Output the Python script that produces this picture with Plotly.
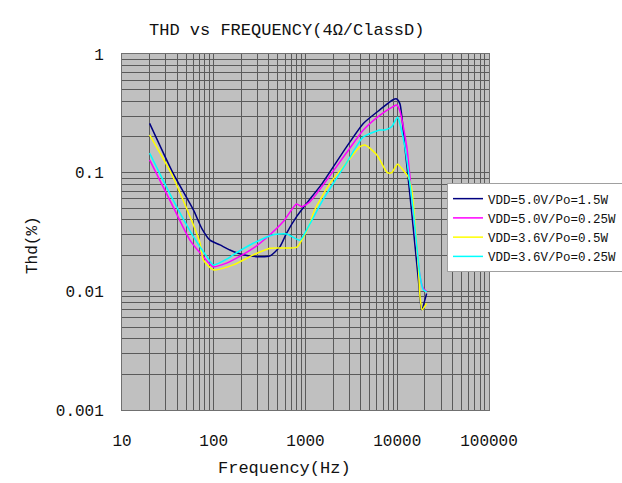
import plotly.graph_objects as go

# ---- data ----
nav_f = [20, 36, 60, 74, 91, 117, 150, 210, 294, 410, 527, 623, 800, 1030, 1500, 2800, 4270, 6500, 8900, 9860, 10700, 12100, 14400, 17000, 18400, 20900]
nav_y = [0.26, 0.099, 0.0485, 0.034, 0.027, 0.0246, 0.0223, 0.0203, 0.0196, 0.0199, 0.0238, 0.031, 0.0426, 0.0552, 0.08, 0.165, 0.26, 0.34, 0.41, 0.418, 0.38, 0.166, 0.0455, 0.0125, 0.007, 0.0096]

mag_f = [20, 36, 55, 77, 99, 138, 163, 270, 410, 573, 800, 910, 1120, 2800, 4270, 6500, 9000, 9860, 10700, 12700, 15000, 17700, 19200, 20900]
mag_y = [0.128, 0.0517, 0.027, 0.0196, 0.0161, 0.0173, 0.0184, 0.0231, 0.030, 0.0387, 0.0545, 0.0517, 0.057, 0.147, 0.229, 0.306, 0.36, 0.372, 0.33, 0.166, 0.0455, 0.0133, 0.0106, 0.010]

yel_f = [20, 36, 65, 71, 77, 99, 163, 270, 410, 800, 910, 1100, 1250, 1860, 2800, 3900, 4450, 6000, 7800, 8690, 10100, 11600, 13200, 14400, 15600, 17000, 17700, 18700, 20900]
yel_y = [0.208, 0.092, 0.031, 0.0254, 0.0184, 0.0152, 0.0167, 0.0203, 0.0231, 0.0235, 0.027, 0.036, 0.048, 0.082, 0.121, 0.165, 0.171, 0.141, 0.10, 0.10, 0.118, 0.105, 0.092, 0.0715, 0.0375, 0.0161, 0.009, 0.007, 0.0079]

cya_f = [20, 36, 60, 84, 99, 144, 163, 270, 445, 623, 871, 1030, 1550, 2800, 4270, 6500, 7350, 8690, 10100, 10800, 12100, 15000, 17700, 19200, 20900]
cya_y = [0.146, 0.059, 0.0289, 0.0196, 0.0167, 0.019, 0.0203, 0.0254, 0.030, 0.0304, 0.027, 0.033, 0.059, 0.121, 0.20, 0.229, 0.229, 0.244, 0.293, 0.25, 0.166, 0.046, 0.0135, 0.0103, 0.0099]

series_names = ["VDD=5.0V/Po=1.5W", "VDD=5.0V/Po=0.25W", "VDD=3.6V/Po=0.5W", "VDD=3.6V/Po=0.25W"]
series_colors = ["#000080", "#ff00ff", "#ffff00", "#00ffff"]

x_ticks = [10, 100, 1000, 10000, 100000]
x_ticktext = ["10", "100", "1000", "10000", "100000"]
y_ticks = [0.001, 0.01, 0.1, 1]
y_ticktext = ["0.001", "0.01", "0.1", "1"]

FONT = "Liberation Mono"

fig = go.Figure()
for f, y, name, col in zip([nav_f, mag_f, yel_f, cya_f], [nav_y, mag_y, yel_y, cya_y], series_names, series_colors):
    fig.add_trace(go.Scatter(x=f, y=y, mode="lines", name=name,
                             line=dict(color=col, width=1.5, shape="spline", smoothing=0.6)))

x_minor = [m * 10 ** e for e in range(1, 5) for m in range(2, 10)]
y_minor = [m * 10 ** e for e in range(-3, 0) for m in range(2, 10)]

grid_col = "#5a5a5a"
fig.update_xaxes(type="log", range=[1, 5], tickvals=x_ticks, ticktext=x_ticktext,
                 showgrid=True, gridcolor=grid_col, gridwidth=1,
                 minor=dict(tickvals=x_minor, showgrid=True, gridcolor=grid_col, gridwidth=1, ticks=""),
                 showline=True, linecolor="#707070", linewidth=1, mirror=True,
                 ticks="", ticklabelstandoff=16, zeroline=False, automargin=False,
                 tickfont=dict(family=FONT, size=16, color="#111"))
fig.update_yaxes(type="log", range=[-3, 0], tickvals=y_ticks, ticktext=y_ticktext,
                 showgrid=True, gridcolor=grid_col, gridwidth=1,
                 minor=dict(tickvals=y_minor, showgrid=True, gridcolor=grid_col, gridwidth=1, ticks=""),
                 showline=True, linecolor="#707070", linewidth=1, mirror=True,
                 ticks="", ticklabelstandoff=14, zeroline=False, automargin=False,
                 tickfont=dict(family=FONT, size=16, color="#111"))

fig.update_layout(
    width=622, height=483,
    margin=dict(l=122, r=133, t=54, b=73, autoexpand=False),
    paper_bgcolor="white", plot_bgcolor="#c0c0c0",
    font=dict(family=FONT, color="#111"),
    showlegend=True,
    legend=dict(x=0.8856, y=0.6376, xanchor="left", yanchor="top",
                bgcolor="white", bordercolor="#a0a0a0", borderwidth=1,
                font=dict(family=FONT, size=12.5, color="#111"),
                itemwidth=30, tracegroupgap=0),
    annotations=[
        dict(text="THD vs FREQUENCY(4Ω/ClassD)", x=0.449, y=1.067, xref="paper", yref="paper",
             xanchor="center", yanchor="middle",
             showarrow=False, font=dict(family=FONT, size=17, color="#111")),
        dict(text="Frequency(Hz)", x=0.444, y=-0.163, xref="paper", yref="paper",
             xanchor="center", yanchor="middle",
             showarrow=False, font=dict(family=FONT, size=17, color="#111")),
        dict(text="Thd(%)", x=-0.2425, y=0.4635, xref="paper", yref="paper", textangle=-90,
             xanchor="center", yanchor="middle",
             showarrow=False, font=dict(family=FONT, size=16, color="#111")),
    ],
)

fig.write_html("out.html")
